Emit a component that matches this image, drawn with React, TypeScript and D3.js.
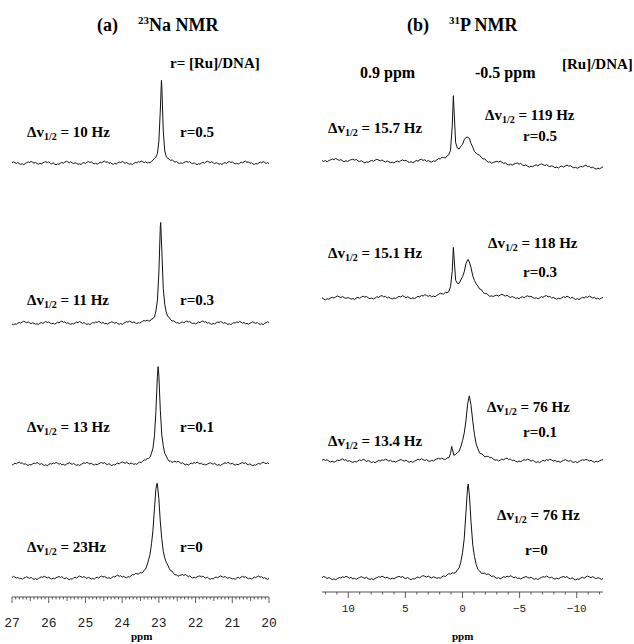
import React, { useRef, useEffect } from "react";
import * as d3 from "d3";

// (a) 23Na spectra, top to bottom
const naRatios = ["r=0.5", "r=0.3", "r=0.1", "r=0"];
const naWidths = ["10 Hz", "11 Hz", "13 Hz", "23Hz"];
const naShift = [22.93, 22.95, 23.02, 23.05];
const naFwhm = [0.08, 0.1, 0.13, 0.22];
const naHeight = [84, 100, 96, 95];
const naOffset = [415, 255, 114, 0];
const naTicks = [27, 26, 25, 24, 23, 22, 21, 20];

// (b) 31P spectra, top to bottom
const pRatios = ["r=0.5", "r=0.3", "r=0.1", "r=0"];
const pSharpWidths = ["15.7 Hz", "15.1 Hz", "13.4 Hz", ""];
const pBroadWidths = ["119 Hz", "118 Hz", "76 Hz", "76 Hz"];
const pSharpShift = [0.8, 0.8, 0.95, 0.9];
const pSharpFwhm = [0.2, 0.2, 0.2, 0.2];
const pSharpHeight = [62, 44, 12, 0];
const pBroadShift = [-0.45, -0.5, -0.6, -0.5];
const pBroadFwhm = [1.1, 0.9, 0.75, 0.6];
const pBroadHeight = [22, 35, 65, 92];
const pBaseHeight = [5, 4, 0, 0];
const pDrift = [-8, 0, 0, 0];
const pOffset = [418, 280, 117, 0];
const pTicks = [10, 5, 0, -5, -10];

// baseline noise (hand-read wiggle, same units as peak heights)
const noise = [0.3, 0.9, 0.2, -0.3, 0.4, -0.6, -1.1, -0.5, -1.3, -0.4, 0.2, 0.8, 0.4, 1.2, 0.6, -0.1,
	0.5, -0.4, -0.9, -0.2, -0.7, 0.1, 0.6, 1.0, 0.3, 0.9, -0.2, -0.6, 0.1, -0.8, -1.4, -0.7,
	-1.0, -0.1, 0.4, -0.2, 0.7, 1.3, 0.8, 0.2, 0.9, 0.1, -0.5, 0.2, -0.3, -1.0, -0.6, -1.2,
	-0.2, 0.3, -0.4, 0.5, 1.1, 0.4, 0.8, -0.1, -0.7, -0.2, -0.9, -0.3, 0.6, 0.1, 1.0, 1.4,
	0.5, 0.9, -0.3, 0.2, -0.6, -1.1, -0.4, -0.8, 0.0, 0.7, 0.2, 1.1, 0.5, -0.4, 0.3, -0.5,
	-1.2, -0.6, -1.3, -0.5, 0.3, -0.1, 0.8, 0.3, 1.2, 0.6, -0.2, 0.4, -0.7, -0.3, -1.0, -0.2];

const lorentz = (x: number, c: number, w: number, h: number) => h / (1 + Math.pow((x - c) / (w / 2), 2));

const SERIF = "'Liberation Serif', 'Times New Roman', serif";
const MONO = "'Liberation Mono', 'Courier New', monospace";

const App = () => {
	const chartRef = useRef<SVGSVGElement>(null);

	useEffect(() => {
		const width = 634;
		const height = 644;

		d3.select(chartRef.current).selectAll("*").remove();

		const svg = d3
			.select(chartRef.current)
			.attr("width", width)
			.attr("height", height);

		const line = d3.line<[number, number]>().x(d => d[0]).y(d => d[1]);

		// Δν½ label helper
		const dnu = (x: number, y: number, value: string) => {
			const t = svg.append("text")
				.attr("x", x)
				.attr("y", y)
				.attr("font-family", SERIF)
				.attr("font-weight", "bold")
				.attr("font-size", 15);
			t.append("tspan").text("\u0394v");
			t.append("tspan").attr("font-size", 10).attr("dy", 3).text("1/2");
			t.append("tspan").attr("dy", -3).text(" = " + value);
		};

		const label = (x: number, y: number, s: string, size = 15) => {
			svg.append("text")
				.attr("x", x)
				.attr("y", y)
				.attr("font-family", SERIF)
				.attr("font-weight", "bold")
				.attr("font-size", size)
				.text(s);
		};

		// ---------- panel (a) 23Na ----------
		const xNa = d3.scaleLinear().domain([27, 20]).range([12, 269]);
		const yNa = d3.scaleLinear().domain([0, 500]).range([578, 78]);

		naShift.forEach((c, k) => {
			const grid = d3.range(0, 176).map(i => 27 - i * 0.04);
			const pts = grid.concat([c]).sort((a, b) => b - a);
			const data: [number, number][] = pts.map(x => {
				const i = Math.round((27 - x) / 0.04);
				const n = noise[(i + k * 29) % noise.length];
				const v = naOffset[k] + lorentz(x, c, naFwhm[k], naHeight[k]) + n * 1.3;
				return [xNa(x), yNa(v)];
			});
			svg.append("path")
				.attr("d", line(data))
				.attr("fill", "none")
				.attr("stroke", "#111")
				.attr("stroke-width", 1);
		});

		// axis (a)
		const axA = svg.append("g").attr("transform", "translate(0,597)");
		axA.append("line")
			.attr("x1", xNa(27)).attr("x2", xNa(20))
			.attr("stroke", "#555").attr("stroke-width", 1.2);
		axA.selectAll("line.minor")
			.data(d3.range(0, 71).map(i => 27 - i * 0.1))
			.enter()
			.append("line")
			.attr("class", "minor")
			.attr("x1", d => xNa(d)).attr("x2", d => xNa(d))
			.attr("y1", 0)
			.attr("y2", (d, i) => (i % 10 === 0 ? 6 : i % 5 === 0 ? 4 : 2.5))
			.attr("stroke", "#333").attr("stroke-width", 0.8);
		axA.selectAll("text")
			.data(naTicks)
			.enter()
			.append("text")
			.attr("x", d => xNa(d))
			.attr("y", 30)
			.attr("text-anchor", "middle")
			.attr("font-family", MONO)
			.attr("font-size", 13)
			.attr("fill", "#222")
			.text(d => d);

		label(131, 640, "ppm", 11);

		// labels (a)
		const naLabelY = [132, 300, 427, 547];
		naLabelY.forEach((y, k) => {
			dnu(27, y + 5, naWidths[k]);
			label(180, y + 5, naRatios[k]);
		});

		// title (a)
		const ta = svg.append("text")
			.attr("x", 97).attr("y", 31)
			.attr("font-family", SERIF).attr("font-weight", "bold").attr("font-size", 18);
		ta.append("tspan").text("(a)");
		ta.append("tspan").attr("dx", 20).attr("font-size", 11).attr("dy", -7).text("23");
		ta.append("tspan").attr("dy", 7).text("Na NMR");
		label(170, 68, "r= [Ru]/DNA]", 15);

		// ---------- panel (b) 31P ----------
		const xP = d3.scaleLinear().domain([12.3, -12.3]).range([322, 603]);
		const yP = d3.scaleLinear().domain([0, 500]).range([578, 78]);

		pBroadShift.forEach((c, k) => {
			const grid = d3.range(0, 165).map(i => 12.3 - i * 0.15);
			const pts = grid.concat([c, pSharpShift[k]]).sort((a, b) => b - a);
			const data: [number, number][] = pts.map(x => {
				const i = Math.round((12.3 - x) / 0.15);
				const n = noise[(i + k * 23 + 5) % noise.length];
				const drift = pDrift[k] * (12.3 - x) / 24.6;
				const v = pOffset[k] + drift
					+ lorentz(x, c, pBroadFwhm[k], pBroadHeight[k])
					+ lorentz(x, pSharpShift[k], pSharpFwhm[k], pSharpHeight[k])
					+ lorentz(x, 0, 4, pBaseHeight[k])
					+ n * 1.4;
				return [xP(x), yP(v)];
			});
			svg.append("path")
				.attr("d", line(data))
				.attr("fill", "none")
				.attr("stroke", "#111")
				.attr("stroke-width", 1);
		});

		// axis (b)
		const axB = svg.append("g").attr("transform", "translate(0,592)");
		axB.append("line")
			.attr("x1", xP(12.3)).attr("x2", xP(-12.3))
			.attr("stroke", "#555").attr("stroke-width", 1.2);
		axB.selectAll("line.minor")
			.data(d3.range(-12, 13))
			.enter()
			.append("line")
			.attr("class", "minor")
			.attr("x1", d => xP(d)).attr("x2", d => xP(d))
			.attr("y1", 0)
			.attr("y2", d => (d % 5 === 0 ? 6 : 2.5))
			.attr("stroke", "#333").attr("stroke-width", 0.8);
		axB.selectAll("text")
			.data(pTicks)
			.enter()
			.append("text")
			.attr("x", d => xP(d))
			.attr("y", 20)
			.attr("text-anchor", "middle")
			.attr("font-family", MONO)
			.attr("font-size", 11)
			.attr("fill", "#222")
			.text(d => (d < 0 ? "\u2212" + Math.abs(d) : String(d)));

		label(452, 640, "ppm", 11);

		// labels (b)
		const pSharpY = [128, 253, 441, 0];
		const pBroadX = [485, 488, 487, 497];
		const pBroadY = [115, 243, 407, 515];
		const pRatioX = [523, 523, 523, 525];
		const pRatioY = [136, 272, 432, 550];
		pRatios.forEach((r, k) => {
			if (pSharpWidths[k]) dnu(328, pSharpY[k] + 5, pSharpWidths[k]);
			dnu(pBroadX[k], pBroadY[k] + 5, pBroadWidths[k]);
			label(pRatioX[k], pRatioY[k] + 5, r);
		});

		// title (b)
		const tb = svg.append("text")
			.attr("x", 407).attr("y", 31)
			.attr("font-family", SERIF).attr("font-weight", "bold").attr("font-size", 18);
		tb.append("tspan").text("(b)");
		tb.append("tspan").attr("dx", 20).attr("font-size", 11).attr("dy", -7).text("31");
		tb.append("tspan").attr("dy", 7).text("P NMR");
		label(360, 78, "0.9 ppm", 16);
		label(475, 78, "-0.5 ppm", 16);
		label(562, 69, "[Ru]/DNA]", 15);
	}, []);

	return <svg ref={chartRef} style={{ position: "absolute", left: 0, top: 0 }}></svg>;
};

export default App;
